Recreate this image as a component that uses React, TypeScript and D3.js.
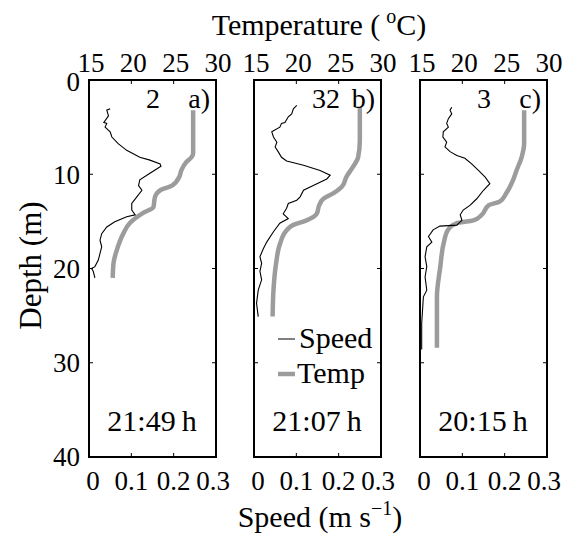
import React from 'react';
import * as d3 from 'd3';

// depth (m) / value pairs
const speedDepthA = [3.05, 3.2, 3.8, 4.5, 4.6, 5.0, 5.5, 6.05, 6.75, 7.46, 8.2, 8.5, 8.9, 9.15, 9.9, 10.6, 11.2, 11.7, 12.4, 13.1, 13.8, 14.3, 14.5, 15.05, 15.6, 16.3, 17.0, 17.7, 18.4, 19.1, 19.8, 20.0, 20.3, 21.0];
const speedA = [0.05, 0.042, 0.046, 0.035, 0.042, 0.038, 0.05, 0.054, 0.069, 0.089, 0.12, 0.144, 0.168, 0.17, 0.144, 0.12, 0.117, 0.125, 0.113, 0.101, 0.101, 0.109, 0.089, 0.061, 0.042, 0.03, 0.026, 0.03, 0.026, 0.022, 0.014, 0.006, 0.01, 0.014];
const tempDepthA = [3.2, 7.8, 8.2, 8.7, 9.6, 10.2, 11.2, 11.7, 12.4, 13.5, 14.1, 15.2, 16.3, 18.0, 19.4, 21.0];
const tempA = [27.3, 27.3, 27.1, 26.5, 25.9, 25.7, 24.8, 23.4, 22.8, 22.6, 21.4, 19.8, 19.05, 18.3, 17.9, 17.8];

const speedDepthB = [2.7, 3.05, 3.6, 3.9, 4.5, 4.6, 5.0, 5.5, 6.05, 6.6, 7.1, 7.6, 8.2, 8.6, 9.05, 9.6, 10.1, 10.5, 11.2, 11.7, 12.4, 12.75, 13.1, 13.6, 14.2, 14.7, 15.2, 16.1, 17.2, 17.9, 18.75, 19.45, 20.3, 21.2, 22.3, 23.7, 25.1];
const speedB = [0.101, 0.093, 0.089, 0.081, 0.073, 0.065, 0.061, 0.042, 0.046, 0.054, 0.05, 0.057, 0.065, 0.077, 0.117, 0.156, 0.18, 0.172, 0.14, 0.117, 0.109, 0.101, 0.081, 0.077, 0.069, 0.081, 0.061, 0.046, 0.03, 0.022, 0.014, 0.018, 0.014, 0.018, 0.01, 0.006, 0.01];
const tempDepthB = [2.9, 6.4, 8.2, 9.2, 10.3, 11.3, 12.0, 12.6, 13.3, 14.2, 14.9, 15.4, 15.9, 17.3, 19.5, 22.3, 25.1];
const tempB = [27.5, 27.5, 27.3, 26.7, 25.9, 25.4, 24.4, 23.2, 22.7, 22.4, 21.2, 19.6, 18.9, 18.1, 17.6, 17.3, 17.2];

const speedDepthC = [2.9, 3.2, 3.6, 4.1, 4.6, 5.0, 5.5, 6.05, 6.6, 7.1, 7.6, 8.0, 8.3, 8.9, 9.6, 10.3, 11.0, 11.7, 12.6, 13.3, 13.8, 14.3, 14.9, 15.4, 15.5, 15.9, 16.6, 17.2, 17.7, 18.75, 19.8, 20.9, 22.3, 23.0, 25.8, 28.6];
const speedC = [0.075, 0.071, 0.075, 0.067, 0.063, 0.067, 0.055, 0.054, 0.063, 0.059, 0.071, 0.087, 0.106, 0.122, 0.138, 0.154, 0.165, 0.15, 0.134, 0.118, 0.102, 0.095, 0.099, 0.087, 0.047, 0.031, 0.02, 0.028, 0.016, 0.012, 0.016, 0.012, 0.016, 0.008, 0.004, 0.004];
const tempDepthC = [3.2, 6.75, 8.2, 9.6, 10.6, 12.0, 12.9, 13.3, 14.3, 14.9, 15.2, 15.9, 17.3, 19.8, 23.0, 28.4];
const tempC = [27.3, 27.3, 27.0, 26.4, 26.0, 25.2, 24.4, 23.1, 22.3, 21.3, 19.3, 18.3, 17.8, 17.4, 17.0, 17.0];

const panelTags = ['a)', 'b)', 'c)'];
const panelCounts = ['2', '32', '3'];
const panelTimes = ['21:49\u2009h', '21:07\u2009h', '20:15\u2009h'];
const depthTicks = [0, 10, 20, 30, 40];
const tempTicks = [15, 20, 25, 30];
const speedTicks = [0, 0.1, 0.2, 0.3];

const W = 565;
const H = 537;
const panelLefts = [89, 254, 420];
const panelW = 127;
const top = 80;
const bottom = 457;
const font = "'Liberation Serif', 'Times New Roman', serif";
const fs = 27; // tick labels
const fl = 30; // axis titles, legend, times
const grey = '#9c9c9c';

const zip = (a: number[], b: number[]) => a.map((d, i) => [b[i], d] as [number, number]);

const panels = [
  { speed: zip(speedDepthA, speedA), temp: zip(tempDepthA, tempA) },
  { speed: zip(speedDepthB, speedB), temp: zip(tempDepthB, tempB) },
  { speed: zip(speedDepthC, speedC), temp: zip(tempDepthC, tempC) },
];

const App = () => {
  const y = d3.scaleLinear().domain([0, 40]).range([top, bottom]);

  return (
    <svg width={W} height={H} style={{ position: 'absolute', left: 0, top: 0, background: '#fff', fontFamily: font }}>
      <text x={319} y={35} fontSize={fl} textAnchor="middle">
        Temperature (<tspan dx={6} dy={-12} fontSize={20}>o</tspan><tspan dy={12}>C)</tspan>
      </text>
      <text transform={`translate(41,${(top + bottom) / 2 - 3}) rotate(-90)`} fontSize={fl + 1} textAnchor="middle">Depth (m)</text>
      <text x={320} y={527} fontSize={fl} textAnchor="middle">
        Speed (m s<tspan dy={-12} fontSize={20}>−1</tspan><tspan dy={12}>)</tspan>
      </text>
      {depthTicks.map(t => (
        <text key={t} x={80} y={y(t) + (t === 0 ? 2 : 0)} dy="0.35em" fontSize={fs} textAnchor="end">{t}</text>
      ))}
      {panels.map((p, i) => {
        const x0 = panelLefts[i];
        const xs = d3.scaleLinear().domain([0, 0.3]).range([x0, x0 + panelW]);
        const xt = d3.scaleLinear().domain([15, 30]).range([x0, x0 + panelW]);
        const speedLine = d3.line<[number, number]>().x(d => xs(d[0])).y(d => y(d[1]));
        const tempLine = d3.line<[number, number]>().x(d => xt(d[0])).y(d => y(d[1])).curve(d3.curveMonotoneY);
        return (
          <g key={i}>
            <path d={tempLine(p.temp) || ''} fill="none" stroke={grey} strokeWidth={4.5} strokeLinejoin="round" />
            <path d={speedLine(p.speed) || ''} fill="none" stroke="#000" strokeWidth={1.1} />
            <rect x={x0} y={top} width={panelW} height={bottom - top} fill="none" stroke="#000" strokeWidth={2} />
            {[10, 20, 30].map(t => (
              <g key={t}>
                <line x1={x0} x2={x0 + 4} y1={y(t)} y2={y(t)} stroke="#000" strokeWidth={1} />
                <line x1={x0 + panelW - 4} x2={x0 + panelW} y1={y(t)} y2={y(t)} stroke="#000" strokeWidth={1} />
              </g>
            ))}
            {tempTicks.map(t => (
              <g key={t}>
                {t > 15 && t < 30 && <line x1={xt(t)} x2={xt(t)} y1={top} y2={top + 4} stroke="#000" strokeWidth={1} />}
                <text x={xt(t) + 2} y={72} fontSize={fs} textAnchor="middle">{t}</text>
              </g>
            ))}
            {speedTicks.map(t => (
              <g key={t}>
                {t > 0 && t < 0.3 && <line x1={xs(t)} x2={xs(t)} y1={bottom - 4} y2={bottom} stroke="#000" strokeWidth={1} />}
                <text x={xs(t) + (t === 0 ? 4 : t === 0.3 ? -3 : 0)} y={490} fontSize={fs} textAnchor="middle">{t}</text>
              </g>
            ))}
            <text x={x0 + panelW - 6} y={108} fontSize={fs + 1} textAnchor="end">{panelTags[i]}</text>
            <text x={[153, 326, 484][i]} y={108} fontSize={fs + 1} textAnchor="middle">{panelCounts[i]}</text>
            <text x={x0 + 63} y={431} fontSize={fl} textAnchor="middle">{panelTimes[i]}</text>
          </g>
        );
      })}
      <line x1={278} x2={295} y1={339} y2={339} stroke="#000" strokeWidth={1} />
      <text x={299} y={348} fontSize={fl}>Speed</text>
      <line x1={278} x2={295} y1={374} y2={374} stroke={grey} strokeWidth={4.5} />
      <text x={297} y={383} fontSize={fl}>Temp</text>
    </svg>
  );
};

export default App;
